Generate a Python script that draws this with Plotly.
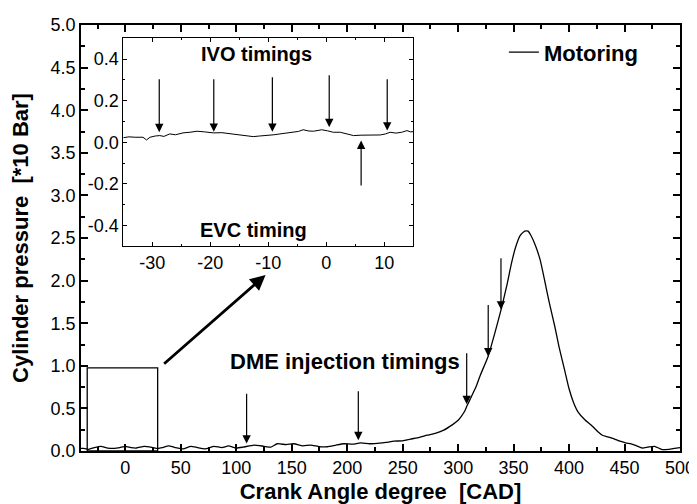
import plotly.graph_objects as go

# ---------------- data ----------------
# main motoring pressure trace (crank angle [CAD], pressure [*10 bar])
cad = [-40, -38, -33, -28, -22, -16, -10, -5, 0, 5, 10, 17, 23, 28, 33, 39, 45, 52, 59, 65, 72,
       80, 87, 93, 100, 106, 116, 125, 131, 137, 145, 152, 160, 167, 175, 182, 190, 197, 205,
       212, 220, 227, 235, 242, 250, 257, 265, 272, 280, 287, 295, 300, 303, 306, 308, 312, 316,
       320, 327, 333, 339, 344, 348, 352, 356, 360, 363, 366, 370, 374, 378, 382, 387, 391,
       396, 400, 404, 408, 414, 421, 426, 430, 435, 440, 446, 451, 456, 461, 466, 471, 477,
       484, 490, 495, 500]
pressure = [0.03, 0.03, 0.02, 0.04, 0.055, 0.035, 0.03, 0.04, 0.055, 0.04, 0.035, 0.055, 0.045,
            0.03, 0.04, 0.06, 0.04, 0.025, 0.055, 0.04, 0.025, 0.055, 0.04, 0.06, 0.035, 0.045,
            0.07, 0.055, 0.045, 0.085, 0.075, 0.085, 0.06, 0.07, 0.05, 0.05, 0.07, 0.085, 0.08,
            0.095, 0.085, 0.09, 0.10, 0.115, 0.12, 0.14, 0.16, 0.185, 0.21, 0.245, 0.31, 0.36,
            0.41, 0.47, 0.53, 0.64, 0.75, 0.89, 1.11, 1.38, 1.675, 1.95, 2.20, 2.40, 2.53, 2.58,
            2.58, 2.52, 2.40, 2.24, 2.00, 1.75, 1.47, 1.22, 0.95, 0.73, 0.57, 0.46, 0.37, 0.29,
            0.225, 0.185, 0.165, 0.145, 0.115, 0.095, 0.085, 0.06, 0.035, 0.045, 0.055, 0.016,
            0.02, 0.03, 0.04]

# inset: zoom around TDC of gas exchange
inset_cad = [-35, -34, -33, -32, -31.6, -31, -30.4, -29.5, -28.7, -28, -27, -26, -24.7, -23.5,
             -22.3, -21, -19.5, -18, -16, -14.5, -12.6, -11.5, -10.3, -9, -8, -7, -5.7, -4.8,
             -4, -3, -2.2, -1.5, -0.8, 0.2, 1.2, 2.4, 3.5, 4.7, 6, 7, 8, 9.3, 10.2, 11, 12,
             13, 13.9, 14.5, 15]
inset_p = [0.022, 0.026, 0.024, 0.026, 0.024, 0.011, 0.024, 0.03, 0.032, 0.028, 0.04, 0.036,
           0.045, 0.048, 0.053, 0.05, 0.045, 0.046, 0.04, 0.033, 0.027, 0.03, 0.032, 0.036,
           0.04, 0.043, 0.048, 0.052, 0.06, 0.054, 0.053, 0.058, 0.06, 0.055, 0.048, 0.048,
           0.04, 0.032, 0.034, 0.035, 0.033, 0.035, 0.04, 0.048, 0.044, 0.048, 0.056, 0.05,
           0.051]

# arrow annotations: (position, tip value, tail value)
dme_x = [109.3, 210, 307.7, 327.1, 338.6]
dme_tip = [0.087, 0.126, 0.55, 1.11, 1.66]
dme_tail = [0.69, 0.72, 1.165, 1.73, 2.28]

ivo_x = [-28.8, -19.4, -9.3, 0.5, 10.5]
ivo_tip = [0.048, 0.05, 0.05, 0.072, 0.056]
ivo_tail = [0.31, 0.31, 0.32, 0.33, 0.31]

evc_x = [6.0]
evc_tip = [0.008]
evc_tail = [-0.216]

main_xticks = list(range(0, 501, 50))
main_yticks = [0, 0.5, 1, 1.5, 2, 2.5, 3, 3.5, 4, 4.5, 5]
inset_xticks = [-30, -20, -10, 0, 10]
inset_xlabels = ["-30", "-20", "-10", "0", "10"]
inset_yticks = [-0.4, -0.2, 0.0, 0.2, 0.4]
inset_ylabels = ["-0.4", "-0.2", "0.0", "0.2", "0.4"]

FONT = "Liberation Sans, Arial, sans-serif"

fig = go.Figure()
fig.add_trace(go.Scatter(x=cad, y=pressure, mode="lines", name="<b>Motoring</b>",
                         line=dict(color="black", width=1.3, shape="spline", smoothing=0.5),
                         xaxis="x", yaxis="y"))
fig.add_trace(go.Scatter(x=inset_cad, y=inset_p, mode="lines", showlegend=False,
                         line=dict(color="black", width=1), xaxis="x2", yaxis="y2"))

ann = []
for x, t, a in zip(dme_x, dme_tip, dme_tail):
    ann.append(dict(x=x, y=t, ax=x, ay=a, xref="x", yref="y", axref="x", ayref="y",
                    text="", showarrow=True, arrowhead=2, arrowsize=1.4, arrowwidth=1.2,
                    arrowcolor="black"))
for x, t, a in zip(ivo_x + evc_x, ivo_tip + evc_tip, ivo_tail + evc_tail):
    ann.append(dict(x=x, y=t, ax=x, ay=a, xref="x2", yref="y2", axref="x2", ayref="y2",
                    text="", showarrow=True, arrowhead=2, arrowsize=1.4, arrowwidth=1.2,
                    arrowcolor="black"))
# big zoom arrow
ann.append(dict(x=126.4, y=2.067, ax=33.6, ay=1.008, xref="x", yref="y", axref="x", ayref="y",
                text="", showarrow=True, arrowhead=2, arrowsize=1.1, arrowwidth=2.8,
                arrowcolor="black"))
# texts
ann.append(dict(x=198, y=1.05, xref="x", yref="y", text="<b>DME injection timings</b>",
                showarrow=False, font=dict(size=22, color="black", family=FONT)))
ann.append(dict(x=-12, y=0.424, xref="x2", yref="y2", text="<b>IVO timings</b>",
                showarrow=False, font=dict(size=20, color="black", family=FONT)))
ann.append(dict(x=-12.5, y=-0.42, xref="x2", yref="y2", text="<b>EVC timing</b>",
                showarrow=False, font=dict(size=20, color="black", family=FONT)))

axis_common = dict(showline=True, linecolor="black", mirror="ticks", ticks="inside",
                   tickcolor="black", showgrid=False, zeroline=False, automargin=False,
                   tickfont=dict(size=18, color="black", family=FONT))

# the page body adds an 8px offset; the figure is sized so the plot lands where the reference has it
fig.update_layout(
    width=689, height=496,
    margin=dict(l=73, r=17, t=17, b=53),
    plot_bgcolor="white", paper_bgcolor="white",
    font=dict(family=FONT, color="black"),
    showlegend=True,
    legend=dict(x=0.706, y=0.985, xanchor="left", yanchor="top", bgcolor="rgba(0,0,0,0)",
                font=dict(size=22, color="black", family=FONT)),
    xaxis=dict(axis_common, domain=[0, 1], range=[-40, 500], tickvals=main_xticks,
               ticklen=7, linewidth=1.5, tickwidth=1.5, anchor="y",
               minor=dict(dtick=25, tick0=0, ticklen=4, ticks="inside", tickcolor="black"),
               title=dict(text="<b>Crank Angle degree  [CAD]</b>", standoff=8,
                          font=dict(size=22, color="black", family=FONT))),
    yaxis=dict(axis_common, domain=[0, 1], range=[0, 5], tickvals=main_yticks,
               tickformat=".1f", ticklen=7, linewidth=1.5, tickwidth=1.5, anchor="x",
               minor=dict(dtick=0.25, tick0=0, ticklen=4, ticks="inside", tickcolor="black"),
               title=dict(text="<b>Cylinder pressure  [*10 Bar]</b>", standoff=18,
                          font=dict(size=22, color="black", family=FONT))),
    xaxis2=dict(axis_common, domain=[0.0706, 0.5548], range=[-35, 15], tickvals=inset_xticks,
                ticktext=inset_xlabels, ticklen=4, linewidth=1, anchor="y2",
                minor=dict(dtick=5, tick0=0, ticklen=2, ticks="inside", tickcolor="black")),
    yaxis2=dict(axis_common, domain=[0.4809, 0.9687], range=[-0.5, 0.5], tickvals=inset_yticks,
                ticktext=inset_ylabels, ticklen=4, linewidth=1, anchor="x2",
                minor=dict(dtick=0.1, tick0=0, ticklen=2, ticks="inside", tickcolor="black")),
    annotations=ann,
    shapes=[dict(type="rect", xref="x", yref="y", x0=-34.4, x1=29.1, y0=0, y1=0.976,
                 line=dict(color="black", width=1.3))],
)

fig.write_html("out.html")
